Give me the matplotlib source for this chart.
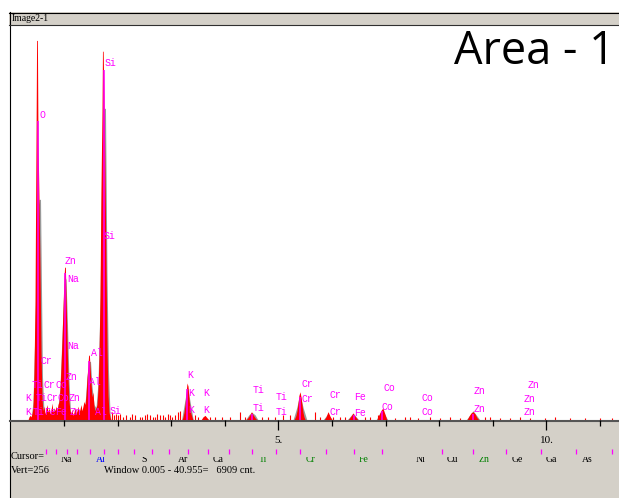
import matplotlib
matplotlib.use("Agg")
import matplotlib.pyplot as plt
from matplotlib.patches import Rectangle
from matplotlib.transforms import Bbox

W, H = 619, 498

# ── data: EDS spectrum (energy in keV, counts; vertical full scale 256) ─────
# low-energy region: O, Na, Al, Si
low_kev = [0.326, 0.345, 0.364, 0.382, 0.401, 0.420, 0.438, 0.457, 0.476, 0.487,
           0.502, 0.513, 0.532, 0.550, 0.569, 0.588, 0.606, 0.625, 0.644, 0.662,
           0.681, 0.700, 0.718, 0.737, 0.756, 0.774, 0.793, 0.812, 0.830, 0.849,
           0.868, 0.886, 0.905, 0.924, 0.942, 0.961, 0.979, 0.998, 1.009, 1.024,
           1.035, 1.054, 1.073, 1.091, 1.110, 1.129, 1.147, 1.166, 1.185, 1.203,
           1.222, 1.241, 1.259, 1.278, 1.297, 1.315, 1.334, 1.353, 1.371, 1.390,
           1.409, 1.427, 1.446, 1.457, 1.472, 1.483, 1.502, 1.521, 1.539, 1.558,
           1.576, 1.595, 1.614, 1.632, 1.651, 1.670, 1.688, 1.707, 1.716, 1.729,
           1.744, 1.763, 1.782, 1.800, 1.819, 1.838, 1.856, 1.875]
low_cts = [0, 2, 3, 2, 4, 8, 30, 75, 181, 246,
           246, 181, 143, 100, 45, 14, 6, 9, 4, 7,
           10, 5, 8, 4, 6, 11, 5, 8, 6, 9,
           6, 10, 12, 20, 34, 52, 72, 92, 99, 99,
           82, 52, 28, 12, 6, 4, 7, 3, 5, 8,
           4, 6, 9, 5, 7, 10, 6, 9, 12, 10,
           16, 27, 36, 42, 42, 35, 24, 15, 18, 9,
           6, 8, 10, 20, 40, 80, 150, 200, 239, 239,
           210, 160, 100, 48, 16, 5, 2, 0]

# minor peaks: K, K-b, Ti, Cr, Cr-b, Fe, Co, Zn
minor_kev = [3.200, 3.218, 3.237, 3.256, 3.274, 3.293, 3.312, 3.330, 3.349, 3.368, 3.386, 3.405,
             3.554, 3.591, 3.629, 3.666, 3.703,
             4.394, 4.431, 4.469, 4.496, 4.524, 4.562, 4.599,
             5.289, 5.308, 5.326, 5.345, 5.364, 5.382, 5.401, 5.420, 5.438, 5.457, 5.476, 5.494, 5.513,
             5.849, 5.886, 5.924, 5.961, 5.998,
             6.297, 6.353, 6.390, 6.427, 6.483,
             6.835, 6.872, 6.910, 6.947, 6.985, 7.022,
             8.517, 8.554, 8.591, 8.629, 8.666, 8.703, 8.741]
minor_cts = [0, 2, 5, 10, 17, 24, 22, 14, 8, 4, 2, 0,
             0, 2, 3, 1.5, 0,
             0, 1.5, 3.5, 5.4, 3.5, 1.5, 0,
             0, 1.5, 3, 6, 11, 16, 18.3, 15, 10, 5, 2, 0.5, 0,
             0, 2, 5.4, 2.5, 0,
             0, 2.5, 4.5, 2.5, 0,
             0, 3, 6, 7.8, 4, 0,
             0, 2.5, 4.5, 5.4, 4, 1.5, 0]

# grey envelope drawn behind the red spectrum
env_kev = [0.382, 0.420, 0.457, 0.494, 0.532, 0.560, 0.578, 0.597, 0.625, 0.662,
           0.868, 0.886, 0.924, 0.961, 0.998, 1.035, 1.063, 1.091, 1.119, 1.147,
           1.371, 1.390, 1.427, 1.465, 1.493, 1.521, 1.558, 1.595, 1.632, 1.670,
           1.707, 1.744, 1.772, 1.800, 1.828, 1.856, 1.875,
           3.19, 3.25, 3.30, 3.35, 3.41,
           4.38, 4.45, 4.50, 4.56, 4.62,
           5.27, 5.34, 5.40, 5.46, 5.53,
           5.83, 5.92, 6.01,
           6.28, 6.39, 6.50,
           6.82, 6.93, 7.04,
           8.50, 8.63, 8.76]
env_cts = [0, 12, 60, 130, 143, 143, 85, 28, 5, 0,
           0, 8, 22, 55, 88, 92, 62, 26, 6, 0,
           0, 10, 28, 38, 38, 22, 10, 8, 24, 75,
           175, 202, 202, 95, 32, 5, 0,
           0, 12, 22, 12, 0,
           0, 3.5, 5, 3.5, 0,
           0, 8, 17, 8, 0,
           0, 4, 0,
           0, 4.5, 0,
           0, 7, 0,
           0, 6, 0]

# magenta overlay (peak centres)
mag_kev = [0.505, 1.016, 1.465, 1.737, 3.30, 4.51, 5.41, 6.40, 6.93, 8.63]
mag_cts = [194, 95, 38, 227, 20, 4, 15, 3, 6, 4]

# background counts
noise_kev = [1.89, 1.93, 1.96, 2.00, 2.04, 2.10, 2.16, 2.23, 2.27, 2.32, 2.42, 2.46,
             2.51, 2.55, 2.60, 2.65, 2.70, 2.74, 2.79, 2.84, 2.88, 2.93, 2.98, 3.02,
             3.07, 3.13, 3.16, 3.44, 3.50, 3.72, 3.82, 3.95, 4.10, 4.28, 4.38, 4.69,
             4.80, 4.94, 5.08, 5.21, 5.68, 5.77, 6.02, 6.15, 6.24, 6.61, 6.71, 6.86,
             7.17, 7.36, 7.45, 7.60, 7.83, 8.01, 8.20, 8.39, 8.85, 8.95, 9.13, 9.32,
             9.51, 9.69, 9.97, 10.16, 10.44, 10.72, 11.00, 11.22]
noise_cts = [5, 3, 4, 3, 4, 2, 3, 2, 4, 3, 2, 2,
             3, 4, 3, 2, 2, 4, 3, 3, 2, 4, 3, 2,
             3, 5, 6, 3, 2, 2, 2, 2, 2, 5, 2, 2,
             2, 2, 3, 3, 5, 2, 2, 2, 2, 2, 2, 3,
             1.5, 2, 2, 1.5, 2, 1.5, 2, 1.5, 2, 2, 1.5, 1.5,
             2, 1.5, 1.5, 2, 1.5, 1.5, 1.5, 1.5]

# peak identification labels (text, keV, counts)
pk_text = ["Si", "O", "Si", "Zn", "Na", "Na", "Cr", "Al", "Zn", "Al",
           "Ti", "Cr", "Co", "K", "Ti", "Cr", "Co", "Zn",
           "K", "Ti", "Fe", "Fe", "Zn", "Al", "Si",
           "K", "K", "K", "K", "K",
           "Ti", "Ti", "Ti", "Ti", "Cr", "Cr", "Cr", "Cr", "Fe", "Fe",
           "Co", "Co", "Co", "Co", "Zn", "Zn", "Zn", "Zn", "Zn"]
pk_kev = [1.763, 0.532, 1.735, 1.017, 1.054, 1.054, 0.569, 1.502, 1.035, 1.465,
          0.395, 0.625, 0.845, 0.271, 0.476, 0.681, 0.886, 1.091,
          0.271, 0.420, 0.625, 0.830, 1.110, 1.576, 1.856,
          3.293, 3.312, 3.591, 3.312, 3.591,
          4.524, 4.524, 4.953, 4.953, 5.438, 5.438, 5.961, 5.961, 6.409, 6.409,
          6.950, 6.931, 7.677, 7.677, 8.647, 8.647, 9.655, 9.580, 9.580]
pk_cts = [231.4, 197.7, 119.1, 103.0, 91.4, 48.0, 38.2, 43.4, 27.9, 24.6,
          22.7, 22.7, 22.7, 14.3, 14.3, 14.3, 14.3, 14.3,
          5.2, 5.2, 5.2, 5.2, 5.2, 5.2, 5.8,
          29.2, 17.5, 17.5, 6.5, 6.5,
          19.4, 7.8, 14.9, 5.2, 23.3, 13.6, 16.2, 5.2, 14.9, 4.5,
          20.7, 8.4, 14.3, 5.2, 18.8, 7.1, 22.7, 13.6, 5.2]

# energy axis and element marker bar
tick_kev = [1, 2, 3, 4, 5, 6, 7, 8, 9, 10, 11]
tick_labels = {5: "5.", 10: "10."}
marker_kev = [0.66, 0.85, 1.05, 1.24, 1.48, 1.74, 2.01, 2.30, 2.64, 2.96, 3.31, 3.69,
              4.08, 4.51, 4.95, 5.40, 5.89, 6.40, 6.93, 8.05, 8.63, 9.24, 9.90, 10.55, 11.22]
elem_names = ["Na", "Al", "S", "Ar", "Ca", "Ti", "Cr", "Fe", "Ni", "Cu", "Zn", "Ge", "Ga", "As"]
elem_kev = [1.035, 1.688, 2.491, 3.218, 3.871, 4.711, 5.606, 6.595, 7.659, 8.237, 8.834,
            9.450, 10.084, 10.756]
elem_colors = ["black", "#0000ff", "black", "black", "black", "#008000", "#008000",
               "#008000", "black", "black", "#008000", "black", "black", "black"]

E_MIN, E_MAX = -0.0093, 11.353
PANEL = "#d4d0c8"
MAGENTA = "#ff00ff"

fig = plt.figure(figsize=(W / 100, H / 100), dpi=100)
fig.patch.set_facecolor("white")


def px_axes(x0, y0, x1, y1):
    # axes placed in image pixels (y downwards)
    return fig.add_axes([x0 / W, 1 - y1 / H, (x1 - x0) / W, (y1 - y0) / H])


# ── window chrome ───────────────────────────────────────────────────────────
bg = px_axes(0, 0, W, H)
bg.set_xlim(0, W)
bg.set_ylim(H, 0)
bg.axis("off")
bg.add_patch(Rectangle((9, 12), W - 9, 12.5, facecolor=PANEL, edgecolor="none"))
bg.add_patch(Rectangle((10, 420), W - 10, H - 420, facecolor=PANEL, edgecolor="none"))
bg.plot([9, W], [12.5, 12.5], color="black", lw=0.8)
bg.plot([9.5, 9.5], [12, H], color="black", lw=0.8)
bg.plot([9, W], [24.5, 24.5], color="#303030", lw=0.8)
bg.text(12, 18.8, "Image2-1", fontsize=7, family="Liberation Serif", va="center")
bg.text(454, 52, "Area - 1", fontsize=32.5, family="Open Sans", va="center", ha="left")
bg.text(11, 456, "Cursor=", fontsize=7.5, family="Liberation Serif", va="center")
bg.text(11, 470, "Vert=256", fontsize=7.5, family="Liberation Serif", va="center")
bg.text(104, 470, "Window 0.005 - 40.955=   6909 cnt.", fontsize=7.5,
        family="Liberation Serif", va="center")

# ── spectrum ────────────────────────────────────────────────────────────────
ax = px_axes(10, 25, W, 420)
ax.set_xlim(E_MIN, E_MAX)
ax.set_ylim(0, 256)
ax.axis("off")

ax.fill_between(env_kev, env_cts, color="#9a9a9a", lw=0, zorder=1)
ax.fill_between(low_kev, low_cts, color="#ff0000", lw=0, zorder=2)
ax.fill_between(minor_kev, minor_cts, color="#ff0000", lw=0, zorder=2)
ax.vlines(noise_kev, 0, noise_cts, color="#ff0000", lw=0.8, zorder=2)
ax.vlines(mag_kev, 0, mag_cts, color=MAGENTA, lw=1.1, zorder=3)

for t, k, c in zip(pk_text, pk_kev, pk_cts):
    ax.text(k, c, t, color=MAGENTA, fontsize=7.1, family="Liberation Mono",
            ha="left", va="center", zorder=4)

# ── energy scale and element bar ───────────────────────────────────────────
axb = px_axes(10, 420, W, H)
axb.set_xlim(E_MIN, E_MAX)
axb.set_ylim(H - 420, 0)
axb.axis("off")

axb.axhline(0.8, color="#555555", lw=1.5, clip_on=False)
axb.vlines(tick_kev, 0, [10 if k in tick_labels else 6 for k in tick_kev],
           color="black", lw=0.9)
for k, lab in tick_labels.items():
    axb.text(k, 20, lab, fontsize=8, family="Liberation Serif", ha="center", va="center")

axb.vlines(marker_kev, 29, 34, color=MAGENTA, lw=0.9)

clip = Bbox.from_extents(10, H - 466, W, H - 457)
for name, k, col in zip(elem_names, elem_kev, elem_colors):
    t = axb.text(k, 42, name, color=col, fontsize=7, family="Liberation Serif",
                 ha="center", va="baseline")
    t.set_clip_box(clip)
    t.set_clip_on(True)

fig.savefig("out.png", dpi=100)
